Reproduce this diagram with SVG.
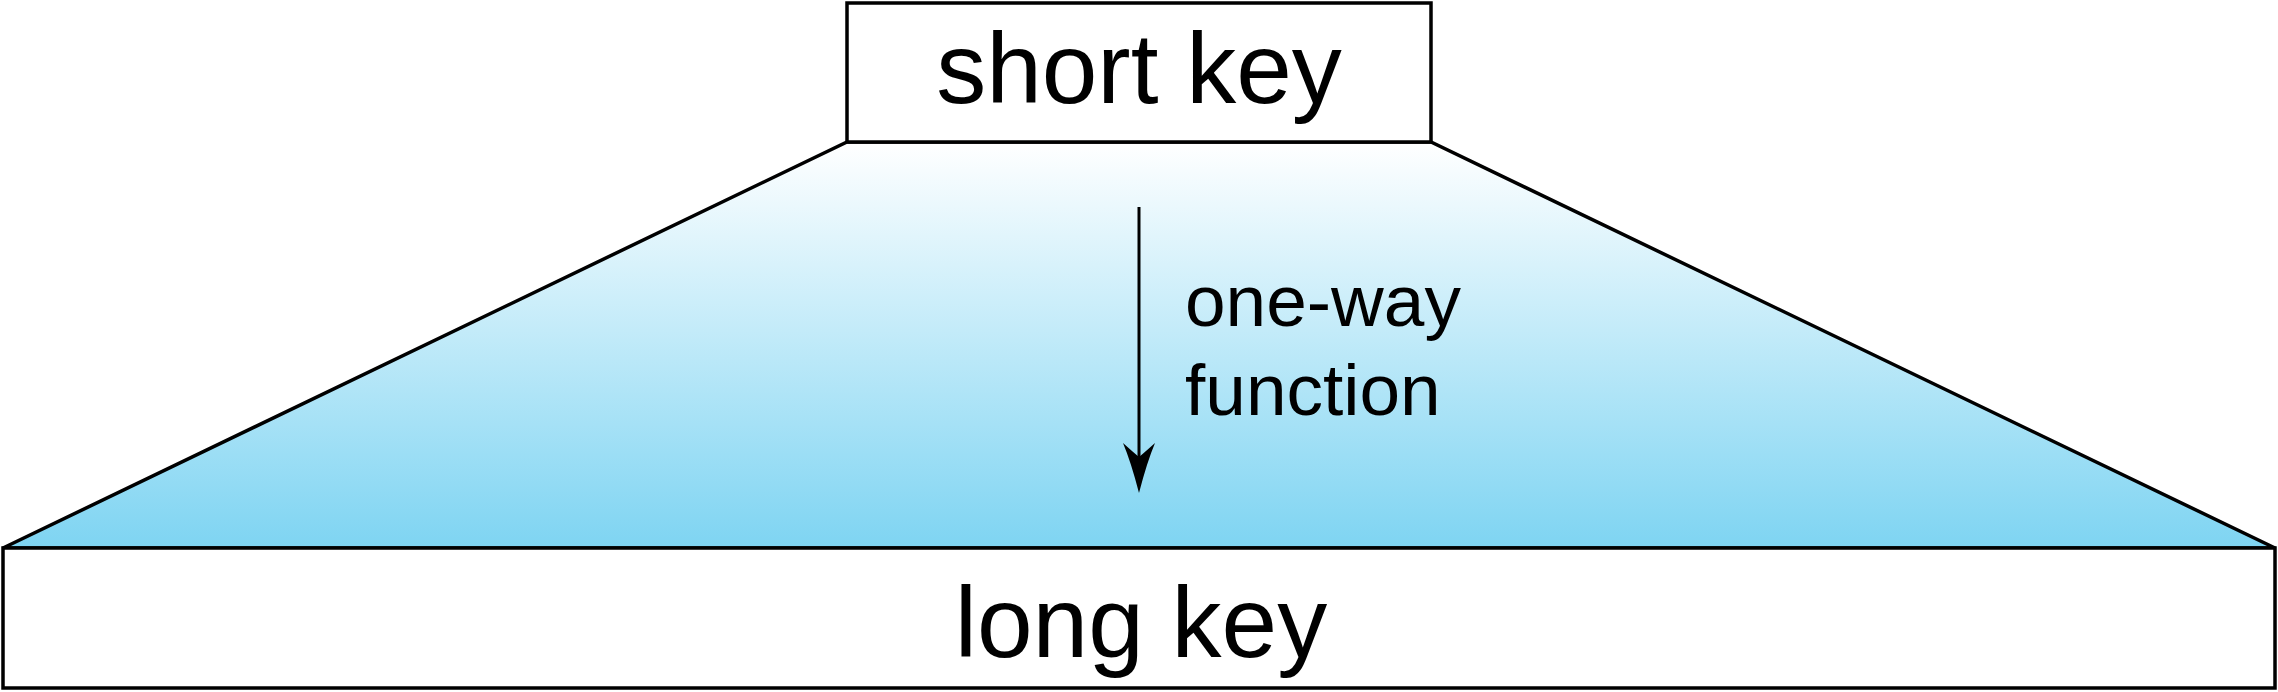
<svg xmlns="http://www.w3.org/2000/svg" width="2278" height="692" viewBox="0 0 2278 692">
<style>
.box{fill:#fff;stroke:#000;stroke-width:3.5}
.big{font-family:"Liberation Sans",Arial,sans-serif;font-size:100px;fill:#000;text-anchor:middle}
.lbl{font-family:"Liberation Sans",Arial,sans-serif;font-size:73px;fill:#000}
</style>
<defs>
<linearGradient id="g" x1="0" y1="0" x2="0" y2="1">
<stop offset="0" stop-color="#ffffff"/>
<stop offset="1" stop-color="#7ed4f2"/>
</linearGradient>
</defs>
<g id="funnel">
<polygon points="847,142 1431,142 2275,548 3,548" fill="url(#g)" stroke="#000" stroke-width="3.5" stroke-linejoin="miter"/>
</g>
<g id="short-key">
<rect class="box" x="847" y="3" width="584" height="139"/>
<text class="big" x="1139" y="103">short key</text>
</g>
<g id="long-key">
<rect class="box" x="3" y="548" width="2272" height="140"/>
<text class="big" x="1141" y="657">long key</text>
</g>
<g id="connectors">
<line x1="1139" y1="207" x2="1139" y2="460" stroke="#000" stroke-width="3"/>
<path d="M1139,493 Q1131,462 1123,443 Q1133,452 1139,457 Q1145,452 1155,443 Q1147,462 1139,493 Z" fill="#000"/>
<text class="lbl" x="1185" y="326">one-way</text>
<text class="lbl" x="1185" y="415">function</text>
</g>
</svg>
